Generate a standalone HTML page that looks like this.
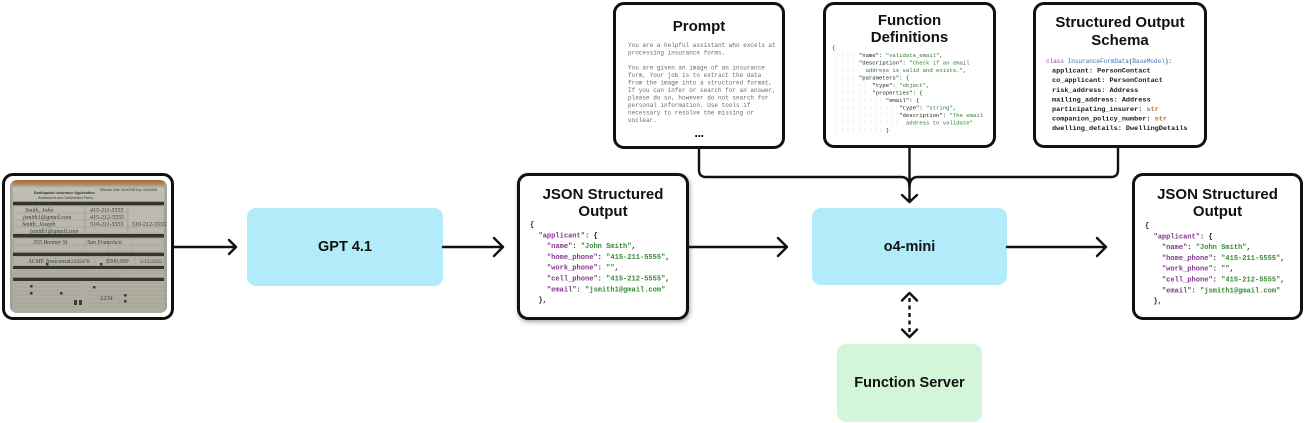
<!DOCTYPE html>
<html><head><meta charset="utf-8">
<style>
*{margin:0;padding:0;box-sizing:border-box}
html,body{width:1306px;height:423px;background:#fff;overflow:hidden}
body{position:relative;font-family:"Liberation Sans",Arial,sans-serif}
.box{position:absolute;border:3px solid #111;border-radius:11px;background:#fff}
.fill{position:absolute;border-radius:9px;display:flex;align-items:center;justify-content:center;font-weight:bold;font-size:14.5px;color:#111}
.title{position:absolute;text-align:center;font-weight:bold;font-size:15px;color:#111;line-height:17px}
.code{position:absolute;transform:scale(.5);transform-origin:0 0;white-space:pre;font-family:"Liberation Mono",monospace}
.k{color:#84398f}
.s{color:#388a38}
.fs{color:#2b7d2b}
.kw{color:#983aa0}
.cl{color:#3a74b0}
.ty{color:#b8702a}
</style></head><body>

<!-- boxes -->
<div class="box" style="left:2px;top:173px;width:172px;height:147px;"></div>
<div class="fill" style="left:247px;top:208px;width:196px;height:78px;background:#b2ebfa;">GPT 4.1</div>
<div class="box" style="left:517px;top:173px;width:172px;height:147px;box-shadow:1px 2px 5px rgba(0,0,0,0.35);"></div>
<div class="fill" style="left:812px;top:208px;width:195px;height:77px;background:#b2ebfa;">o4-mini</div>
<div class="fill" style="left:837px;top:344px;width:145px;height:78px;background:#d3f5d9;">Function Server</div>
<div class="box" style="left:1132px;top:173px;width:171px;height:147px;"></div>
<div class="box" style="left:613px;top:2px;width:172px;height:147px;"></div>
<div class="box" style="left:823px;top:2px;width:173px;height:146px;"></div>
<div class="box" style="left:1033px;top:2px;width:174px;height:146px;"></div>

<!-- titles -->
<div class="title" style="left:613px;top:17.5px;width:172px;">Prompt</div>
<div class="title" style="left:823px;top:11.5px;width:173px;">Function<br>Definitions</div>
<div class="title" style="left:1033px;top:14px;width:174px;line-height:18px;">Structured Output<br>Schema</div>
<div class="title" style="left:517px;top:185.5px;width:172px;">JSON Structured<br>Output</div>
<div class="title" style="left:1132px;top:185.5px;width:171px;">JSON Structured<br>Output</div>

<!-- prompt text -->
<div class="code" style="left:628px;top:42.25px;font-size:12px;line-height:15px;color:#6b6b6b;">You are a helpful assistant who excels at
processing insurance forms.

You are given an image of an insurance
form, Your job is to extract the data
from the image into a structured format,
If you can infer or search for an answer,
please do so, however do not search for
personal information. Use tools if
necessary to resolve the missing or
unclear.</div>
<div style="position:absolute;left:689px;top:126px;width:20px;text-align:center;font-weight:bold;font-size:13px;line-height:13px;color:#111;letter-spacing:-0.5px;">...</div>

<!-- function defs code -->
<div class="code" style="left:832px;top:45.25px;font-size:11.2px;line-height:15px;color:#222;">{
        "name": <span class="fs">"validate_email"</span>,
        "description": <span class="fs">"Check if an email</span>
<span class="fs">          address is valid and exists."</span>,
        "parameters": {
            "type": <span class="fs">"object"</span>,
            "properties": {
                "email": {
                    "type": <span class="fs">"string"</span>,
                    "description": <span class="fs">"The email</span>
<span class="fs">                      address to validate"</span>
                }</div>

<!-- schema code -->
<div class="code" style="left:1052px;top:57.2px;font-size:13.7px;line-height:19.2px;color:#1a1a1a;font-weight:bold;"><span style="font-size:12px;margin-left:-12px;font-weight:normal;"><span class="kw">class</span> <span class="cl">InsuranceFormData</span>(<span class="cl">BaseModel</span>):</span>
applicant: PersonContact
co_applicant: PersonContact
risk_address: Address
mailing_address: Address
participating_insurer: <span class="ty">str</span>
companion_policy_number: <span class="ty">str</span>
dwelling_details: DwellingDetails</div>

<!-- JSON middle -->
<div class="code" style="left:530px;top:219.8px;font-size:14.1px;line-height:21.6px;color:#222;font-weight:bold;">{
  <span class="k">"applicant"</span>: {
    <span class="k">"name"</span>: <span class="s">"John Smith"</span>,
    <span class="k">"home_phone"</span>: <span class="s">"415-211-5555"</span>,
    <span class="k">"work_phone"</span>: <span class="s">""</span>,
    <span class="k">"cell_phone"</span>: <span class="s">"415-212-5555"</span>,
    <span class="k">"email"</span>: <span class="s">"jsmith1@gmail.com"</span>
  },</div>

<!-- JSON right -->
<div class="code" style="left:1145px;top:220.6px;font-size:14.1px;line-height:21.6px;color:#222;font-weight:bold;">{
  <span class="k">"applicant"</span>: {
    <span class="k">"name"</span>: <span class="s">"John Smith"</span>,
    <span class="k">"home_phone"</span>: <span class="s">"415-211-5555"</span>,
    <span class="k">"work_phone"</span>: <span class="s">""</span>,
    <span class="k">"cell_phone"</span>: <span class="s">"415-212-5555"</span>,
    <span class="k">"email"</span>: <span class="s">"jsmith1@gmail.com"</span>
  },</div>

<svg width="1306" height="423" style="position:absolute;left:0;top:0;" fill="none" stroke="#111" stroke-width="2.4" stroke-linecap="round" stroke-linejoin="round">
  <defs>
    <clipPath id="pc"><rect x="10" y="180" width="157" height="133" rx="7"/></clipPath>
    <linearGradient id="pg" x1="0" y1="0" x2="0" y2="1">
      <stop offset="0" stop-color="#a06a3a"/>
      <stop offset="0.03" stop-color="#ad855d"/>
      <stop offset="0.06" stop-color="#c0beb2"/>
      <stop offset="1" stop-color="#adab9e"/>
    </linearGradient>
  </defs>

  <!-- indent guides -->
  <g stroke="#ececec" stroke-width="0.8" stroke-dasharray="4 3.5" stroke-linecap="butt">
    <path d="M837 53V135M843 53V135M848 53V135M854 53V135"/>
    <path d="M860 83V135M865 83V135"/>
    <path d="M871 98V135M876 98V135M881 98V135"/>
    <path d="M887 105V128M892 105V128M897 105V128"/>
  </g>

  <!-- photo -->
  <g clip-path="url(#pc)" stroke="none">
    <rect x="10" y="180" width="157" height="133" fill="url(#pg)"/>
    <rect x="10" y="180" width="2.5" height="133" fill="#a3a195"/>
    <rect x="164.5" y="180" width="2.5" height="133" fill="#a3a195"/>
    <g fill="#34342f">
      <rect x="13" y="201.7" width="151" height="3.6"/>
      <rect x="13" y="234" width="151" height="3.6"/>
      <rect x="13" y="252.7" width="151" height="3.3"/>
      <rect x="13" y="266" width="151" height="3"/>
      <rect x="13" y="277.7" width="151" height="3.3"/>
    </g>
    <g stroke="#9a988e" stroke-width="0.5" fill="none">
      <rect x="14" y="206" width="71" height="27.5"/>
      <rect x="85" y="206" width="43" height="27.5"/>
      <rect x="128" y="206" width="36" height="27.5"/>
      <path d="M14 213H128M14 220H128M14 227H164"/>
      <rect x="14" y="238.5" width="150" height="13.5"/>
      <path d="M14 245H164M85 238.5V252M108 238.5V252M120 238.5V252M132 238.5V252"/>
      <rect x="14" y="256.5" width="150" height="9"/>
      <path d="M55 256.5V265.5M95 256.5V265.5M135 256.5V265.5"/>
      <path d="M14 270.5H164M14 273.5H164M14 276H120"/>
      <path d="M14 283H80M14 287H80M14 291H80M14 295H80M14 299H70M14 303H70M14 307H75"/>
      <path d="M88 283H164M88 287H164M88 291H164M88 295H164M88 299H164M88 303H164M88 307H160"/>
    </g>
    <g fill="#3a3a38">
      <rect x="30" y="285" width="2.5" height="2.5"/>
      <rect x="30" y="292" width="2.5" height="2.5"/>
      <rect x="60" y="292" width="2.5" height="2.5"/>
      <rect x="74" y="300" width="3" height="5"/>
      <rect x="79" y="300" width="3" height="5"/>
      <rect x="93" y="286" width="2.5" height="2.5"/>
      <rect x="124" y="294" width="2.5" height="2.5"/>
      <rect x="124" y="300" width="2.5" height="2.5"/>
      <rect x="46" y="263" width="2.5" height="2.5"/>
      <rect x="100" y="263" width="2.5" height="2.5"/>
    </g>
    <g fill="#333" font-family="Liberation Sans, sans-serif" font-size="9">
      <text transform="translate(34,194) scale(0.42)" font-weight="bold">Earthquake Insurance Application</text>
      <text transform="translate(38,199) scale(0.35)">Homeowners and Condominium Forms</text>
      <text transform="translate(100,191) scale(0.35)">Effective Date: 5/15/2025</text>
      <text transform="translate(136,191) scale(0.35)">Exp: 5/15/2026</text>
    </g>
    <g fill="#3a3a3a" font-family="Liberation Serif, serif" font-style="italic" font-size="12">
      <text transform="translate(25,212) scale(0.5)">Smith, John</text>
      <text transform="translate(23,219) scale(0.5)">jsmith1@gmail.com</text>
      <text transform="translate(22,226) scale(0.5)">Smith, Joseph</text>
      <text transform="translate(30,233) scale(0.5)">jsmith1@gmail.com</text>
      <text transform="translate(90,212) scale(0.5)">415-211-5555</text>
      <text transform="translate(90,219) scale(0.5)">415-212-5555</text>
      <text transform="translate(90,226) scale(0.5)">510-211-5555</text>
      <text transform="translate(132,226) scale(0.5)">510-212-5555</text>
      <text transform="translate(33,244) scale(0.5)">355 Bonner St</text>
      <text transform="translate(87,244) scale(0.5)">San Francisco</text>
      <text transform="translate(28,263) scale(0.5)">ACME Insurance</text>
      <text transform="translate(68,263) scale(0.45)">12345678</text>
      <text transform="translate(106,263) scale(0.5)">$500,000</text>
      <text transform="translate(140,263) scale(0.45)">5/15/2025</text>
      <text transform="translate(100,300) scale(0.55)">1231</text>
    </g>
  </g>

  <!-- horizontal arrows -->
  <path d="M174 247H236M229 240L236 247L229 254"/>
  <path d="M443 247H503M494 238L503 247L494 256"/>
  <path d="M689 247H787M778 238L787 247L778 256"/>
  <path d="M1007 247H1106M1097 238L1106 247L1097 256"/>

  <!-- top bracket -->
  <path d="M699 148V170Q699 177 706 177H901Q909 177 909.5 186"/>
  <path d="M1118 148V170Q1118 177 1111 177H918Q910 177 909.5 186"/>
  <path d="M909.5 148V202M902 195L909.5 202L917 195"/>

  <!-- dashed double arrow -->
  <path d="M909.5 298V333" stroke-dasharray="4 3.5" stroke-linecap="butt"/>
  <path d="M902 300.5L909.5 293L917 300.5"/>
  <path d="M902 329.5L909.5 337L917 329.5"/>
</svg>
</body></html>
